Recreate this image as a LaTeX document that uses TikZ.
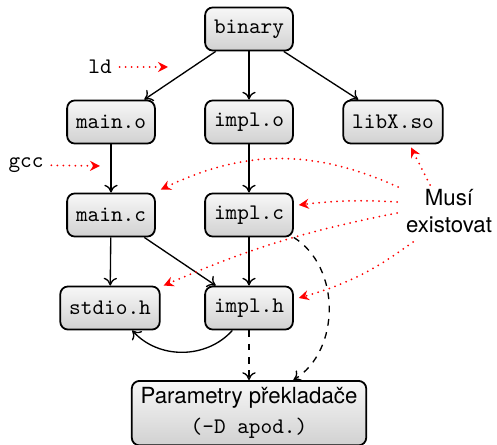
\documentclass[tikz,border=0pt]{standalone}
\usepackage{fontspec}
\setsansfont{TeX Gyre Heros}
\usetikzlibrary{arrows.meta}
\begin{document}
\begin{tikzpicture}[x=0.45pt,y=-0.45pt,
 box/.style={draw,thick,rounded corners=3.5pt,top color=black!3,bottom color=black!18,font=\ttfamily,minimum height=19.4pt,inner xsep=4pt},
 edge/.style={semithick,-{To[length=3.5pt,width=6pt]}},
 dep/.style={semithick,dashed,-{To[length=3.5pt,width=6pt]}},
 note/.style={red,line width=0.9pt,dash pattern=on 0pt off 2.7pt,line cap=round,-{Stealth[length=4.5pt,width=4.5pt,inset=1.5pt]}},
]
\useasboundingbox (0,0) rectangle (497,444);
\node[box] (binary) at (249,29) {binary};
\node[box] (maino) at (111,122) {main.o};
\node[box] (implo) at (249,122) {impl.o};
\node[box] (libx) at (393,122) {libX.so};
\node[box] (mainc) at (111,215) {main.c};
\node[box] (implc) at (249,215) {impl.c};
\node[box] (stdio) at (110,308) {stdio.h};
\node[box] (implh) at (249,308) {impl.h};
\node[box,font=\sffamily,align=center,minimum width=105pt,minimum height=28pt,inner ysep=3pt,anchor=north] (param) at (249,380) {Parametry překladače\\[1.5pt]\texttt{(-D apod.)}};
\node[font=\sffamily,align=center] (must) at (449,211) {Musí\\existovat};
\node[font=\ttfamily] (ld) at (100,67) {ld};
\coordinate (ldend) at (168,67);
\node[font=\ttfamily] (gcc) at (26,165) {gcc};
\coordinate (gccend) at (100,166);

\draw[edge] (binary) -- (maino);
\draw[edge] (binary) -- (implo);
\draw[edge] (binary) -- (libx);
\draw[edge] (maino) -- (mainc);
\draw[edge] (implo) -- (implc);
\draw[edge] (mainc) -- (stdio);
\draw[edge] (mainc) -- (implh);
\draw[edge] (implc) -- (implh);
\draw[edge] ([xshift=-7.5pt]implh.south) to[bend left=48] ([xshift=10pt]stdio.south);
\draw[dep] (implh) -- (param);
\draw[dep] (implc.south east) to[bend left=58] ([xshift=20pt]param.north);

\draw[note] (ld) -- (ldend);
\draw[note] (gcc) -- (gccend);
\draw[note] ([shift={(-19,-26)}]must.center) -- ([shift={(18,3)}]libx.south);
\draw[note] ([shift={(-51,-24)}]must.center) to[bend right=25] ([shift={(5,-3)}]mainc.north east);
\draw[note] ([shift={(-52,-9)}]must.center) to[bend right=5] ([shift={(5,-10)}]implc.east);
\draw[note] ([shift={(-52,2)}]must.center) to[bend right=6] ([shift={(3,0)}]stdio.north east);
\draw[note] ([shift={(-36,31)}]must.center) to[bend left=10] ([shift={(5,-10)}]implh.east);
\end{tikzpicture}
\end{document}
